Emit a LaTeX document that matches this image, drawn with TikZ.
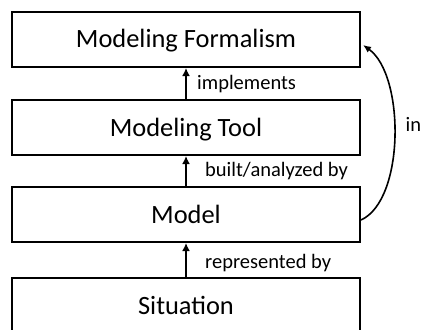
\documentclass[tikz,border=0pt]{standalone}
\usepackage{fontspec}
\setmainfont{Carlito}
\usetikzlibrary{arrows.meta}
\begin{document}
\begin{tikzpicture}[x=1pt,y=-1pt,
  box/.style={draw,line width=2pt,minimum width=348pt,minimum height=55pt,inner sep=0pt,
    text height=17pt,text depth=0pt,font=\fontsize{26.4}{30}\selectfont},
  lbl/.style={anchor=base west,inner sep=0pt,font=\fontsize{20.5}{24}\selectfont},
  arr/.style={line width=1.8pt,-{Latex[length=8pt,width=8pt]}}]
\useasboundingbox (0,0) rectangle (422,329);
\clip (0,0) rectangle (422,329);
\node[box] (fm) at (186,39.5) {Modeling Formalism};
\node[box] (mt) at (186,127.5) {Modeling Tool};
\node[box] (mo) at (186,214.5) {Model};
\node[box] (si) at (186,305.5) {Situation};
\draw[arr] (mt.north) -- (fm.south);
\draw[arr] (mo.north) -- (mt.south);
\draw[arr] (si.north) -- (mo.south);
\node[lbl] (l1) at (197,89) {implements};
\node[lbl] (l2) at (205,176) {built/analyzed by};
\node[lbl] (l3) at (205,268) {represented by};
\coordinate (cs) at ([yshift=-5.5pt]mo.east);
\coordinate (ce) at ([xshift=2pt,yshift=-5.5pt]fm.east);
\draw[line width=1.6pt,-{Latex[length=8pt,width=7pt]}] (cs) .. controls (405,200) and (405,75) .. (ce);
\node[lbl] (l4) at (405.5,131) {in};
\end{tikzpicture}
\end{document}
